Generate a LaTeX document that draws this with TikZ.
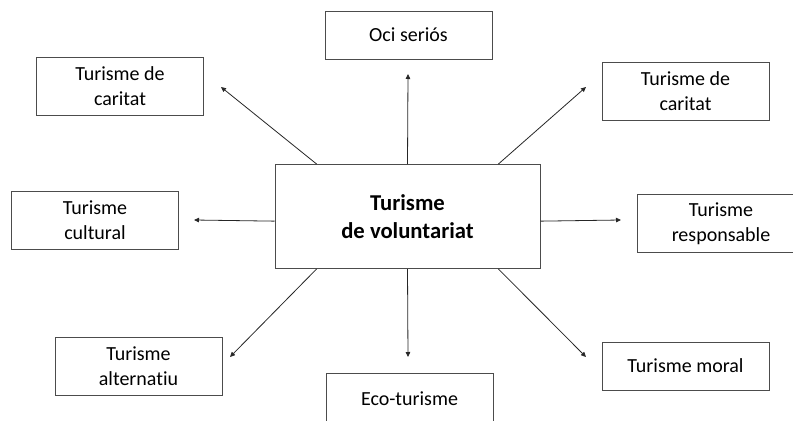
\documentclass[tikz,border=0pt]{standalone}
\usepackage{fontspec}
\setmainfont{Carlito}[Ligatures=CommonOff]
\usetikzlibrary{arrows.meta}
\begin{document}
\begin{tikzpicture}[x=0.75pt, y=-0.75pt,
    box/.style={draw=black!70, line width=0.75pt, align=center, inner sep=0pt,
      minimum width=125.25pt, minimum height=43.5pt, font=\fontsize{15}{18.6}\selectfont},
    link/.style={-{Triangle[length=3.75pt,width=3.4pt]}, draw=black!85, line width=0.6pt}]
  \clip (0,0) rectangle (793,421);
  \node[box, minimum width=198.75pt, minimum height=78pt,
    font=\bfseries\fontsize{17}{20.9}\selectfont] (central) at (407.5,216.5) {Turisme\\de voluntariat};

  \node[box, minimum height=36pt] (oci) at (408.5,35) {Oci seriós};
  \node[box] (carL) at (120,86.5) {Turisme de\\caritat};
  \node[box] (carR) at (685.5,91) {Turisme de\\caritat};
  \node[box] (cult) at (95,220) {Turisme\\cultural};
  \node[box, minimum width=126pt] (resp) at (721,223.5) {Turisme\\responsable};
  \node[box] (alt) at (138.5,366) {Turisme\\alternatiu};
  \node[box, minimum height=39pt] (eco) at (409.5,399) {Eco-turisme};
  \node[box, minimum height=36pt] (moral) at (685.5,366) {Turisme moral};

  % arrow tips, short of the boxes
  \coordinate (tipN) at (408,74);
  \coordinate (tipNW) at (221,87);
  \coordinate (tipNE) at (586,87);
  \coordinate (tipW) at (194,220);
  \coordinate (tipE) at (621,220);
  \coordinate (tipSW) at (230,357);
  \coordinate (tipS) at (408,357);
  \coordinate (tipSE) at (586,357);

  \draw[link] (central.north) -- (tipN);
  \draw[link] (central.150) -- (tipNW);
  \draw[link] (central.30) -- (tipNE);
  \draw[link] (central.182) -- (tipW);
  \draw[link] (central.358) -- (tipE);
  \draw[link] (central.210) -- (tipSW);
  \draw[link] (central.south) -- (tipS);
  \draw[link] (central.330) -- (tipSE);
\end{tikzpicture}
\end{document}
